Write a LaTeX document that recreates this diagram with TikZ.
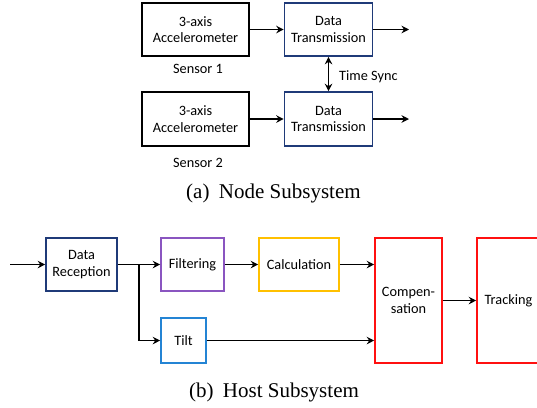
\documentclass[tikz,border=0pt]{standalone}
\usepackage{fontspec}
\setmainfont{Liberation Serif}
\newfontfamily\boxfont{Carlito}
\usetikzlibrary{arrows.meta}

\definecolor{navy}{HTML}{1F3A78}
\definecolor{violet}{HTML}{8A55C0}
\definecolor{skyblue}{HTML}{2484D4}
\definecolor{gold}{HTML}{FFC000}
\definecolor{brightred}{HTML}{FF1010}

\tikzset{
  blk/.style={draw, line width=1.6bp, inner sep=0pt, align=center,
    font=\boxfont\fontsize{14.3bp}{16.5bp}\selectfont},
  lbl/.style={inner sep=0pt, font=\boxfont\fontsize{14.3bp}{16.5bp}\selectfont},
  subcaption/.style={inner sep=0pt, font=\fontsize{21bp}{24bp}\selectfont},
  flow/.style={line width=1.6bp, -{Stealth[length=7.5bp,width=7.5bp,inset=2.5bp]}},
  sync/.style={line width=1.6bp, {Stealth[length=7.5bp,width=7.5bp,inset=2.5bp]}-{Stealth[length=7.5bp,width=7.5bp,inset=2.5bp]}}
}

\begin{document}
\begin{tikzpicture}[x=1bp, y=-1bp]
\useasboundingbox (0,0) rectangle (537,407);
\clip (0,0) rectangle (537,407);

% ---- node subsystem ----
\node[blk, minimum width=107bp, minimum height=53bp] (acc1) at (195.5,29.5) {3-axis\\Accelerometer};
\node[blk, draw=navy, minimum width=88bp, minimum height=53bp] (dt1) at (328.5,29.5) {Data\\Transmission};
\node[blk, minimum width=107bp, minimum height=54bp] (acc2) at (195.5,119) {3-axis\\Accelerometer};
\node[blk, draw=navy, minimum width=88bp, minimum height=54bp] (dt2) at (328.5,119) {Data\\Transmission};
\node[lbl] (s1) at (198,69) {Sensor 1};
\node[lbl] (s2) at (198,163) {Sensor 2};
\node[lbl, anchor=west] (ts) at (339,77) {Time Sync};
\coordinate (o1) at (409,29.5);
\coordinate (o2) at (409,119);

\draw[flow] (acc1) -- (dt1);
\draw[flow] (acc2) -- (dt2);
\draw[flow] (dt1) -- (o1);
\draw[flow] (dt2) -- (o2);
\draw[sync] (dt1) -- (dt2);

\node[subcaption] (capa) at (273.5,193) {(a)\hspace{0.2em} Node Subsystem};

% ---- host subsystem ----
\node[blk, draw=navy, minimum width=71bp, minimum height=53bp] (rec) at (81.5,264.5) {Data\\Reception};
\node[blk, draw=violet, minimum width=63bp, minimum height=53bp] (filt) at (192.5,264.5) {Filtering};
\node[blk, draw=gold, minimum width=80bp, minimum height=53bp] (calc) at (299,264.5) {Calculation};
\node[blk, draw=skyblue, minimum width=45bp, minimum height=45bp] (tilt) at (183.5,340.5) {Tilt};
\node[blk, draw=brightred, minimum width=67bp, minimum height=125bp] (comp) at (408.5,300.5) {Compen-\\sation};
\node[blk, draw=brightred, minimum width=63bp, minimum height=125bp] (track) at (508.5,300.5) {Tracking};
\coordinate (in) at (10,264.5);
\coordinate (br) at (139,264.5);

\draw[flow] (in) -- (rec);
\draw[flow] (rec) -- (filt);
\draw[flow] (br) |- (tilt.west);
\draw[flow] (filt) -- (calc);
\draw[flow] (calc.east) -- (comp.west |- calc.east);
\draw[flow] (tilt.east) -- (comp.west |- tilt.east);
\draw[flow] (comp) -- (track);

\node[subcaption] (capb) at (274,392) {(b)\hspace{0.2em} Host Subsystem};
\end{tikzpicture}
\end{document}
